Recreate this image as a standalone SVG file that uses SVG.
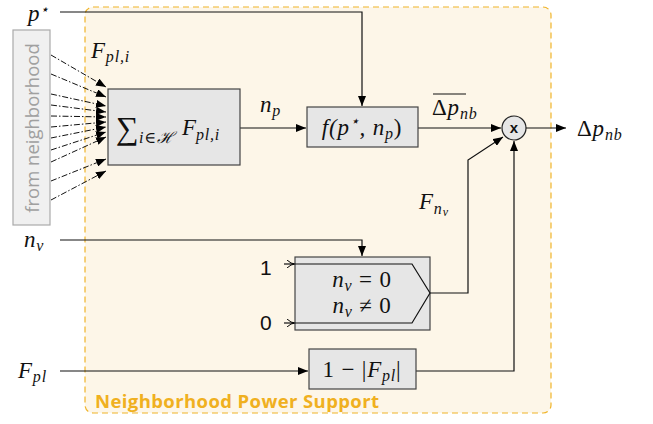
<svg xmlns="http://www.w3.org/2000/svg" width="653" height="424" viewBox="0 0 653 424">
<defs>
<marker id="ah" viewBox="0 0 10 8" refX="10" refY="4" markerWidth="10" markerHeight="8" markerUnits="userSpaceOnUse" orient="auto"><path d="M0,0 L10,4 L0,8 z" fill="#000"/></marker>
<marker id="oa" viewBox="0 0 8 8" refX="8" refY="4" markerWidth="8" markerHeight="8" markerUnits="userSpaceOnUse" orient="auto"><path d="M0,0 Q4,4 8,4 Q4,4 0,8" fill="none" stroke="#000" stroke-width="1"/></marker>
<style>
text{font-family:"Liberation Serif","DejaVu Serif",serif}
.m{font-style:italic;font-size:23px;fill:#111;letter-spacing:0.8px}
.r{font-size:23px;fill:#111;letter-spacing:0.8px}
.s{font-family:"Liberation Sans","DejaVu Sans",sans-serif;font-size:21px;fill:#111}
.box{fill:#e6e6e6;stroke:#444;stroke-width:1.2}
.w{fill:none;stroke:#111;stroke-width:1.2}
.dd{fill:none;stroke:#111;stroke-width:1;stroke-dasharray:6 2 1.5 2}
</style>
</defs>
<rect id="region" x="85" y="7" width="466" height="406" rx="8" fill="#fdf6e8" stroke="#f0b429" stroke-width="1.2" stroke-dasharray="6 4"/>
<text x="95" y="408" style="font-family:'Open Sans','DejaVu Sans',sans-serif;font-weight:bold;font-size:18.5px;letter-spacing:0.4px" fill="#f0b020">Neighborhood Power Support</text>
<g id="neigh"><rect x="13" y="30" width="37" height="195" fill="#f0f0f0" stroke="#aaa" stroke-width="1.2"/><text transform="translate(39,128) rotate(-90)" text-anchor="middle" style="font-family:'Open Sans','DejaVu Sans',sans-serif;font-size:18.5px" fill="#a0a0a0">from neighborhood</text></g>
<g id="connectors">
<path class="dd" d="M51,55 L106,87" marker-end="url(#ah)"/>
<path class="dd" d="M51,74 L106,97" marker-end="url(#ah)"/>
<path class="dd" d="M51,94 L106,106" marker-end="url(#ah)"/>
<path class="dd" d="M51,105 L106,112" marker-end="url(#ah)"/>
<path class="dd" d="M51,116 L106,117" marker-end="url(#ah)"/>
<path class="dd" d="M51,127 L106,122" marker-end="url(#ah)"/>
<path class="dd" d="M51,138 L106,127" marker-end="url(#ah)"/>
<path class="dd" d="M51,150 L106,132" marker-end="url(#ah)"/>
<path class="dd" d="M51,162 L106,137" marker-end="url(#ah)"/>
<path class="dd" d="M51,181 L106,159" marker-end="url(#ah)"/>
<path class="dd" d="M51,200 L106,171" marker-end="url(#ah)"/>
<path class="w" d="M60,12 H362 V106" marker-end="url(#ah)"/>
<path class="w" d="M240,128 H306" marker-end="url(#ah)"/>
<path class="w" d="M418,128 H501" marker-end="url(#ah)"/>
<path class="w" d="M526,128 H566" marker-end="url(#ah)"/>
<path class="w" d="M430,293 H468 V160 L503,137" marker-end="url(#ah)"/>
<path class="w" d="M416,371 H514 V141" marker-end="url(#ah)"/>
<path class="w" d="M60,240 H362 V256" marker-end="url(#ah)"/>
<path class="w" d="M284,264 H295" marker-end="url(#oa)"/>
<path class="w" d="M284,323 H295" marker-end="url(#oa)"/>
<path class="w" d="M60,371 H308" marker-end="url(#ah)"/>
</g>
<g id="sum"><rect class="box" x="108" y="89" width="132" height="76"/><text x="116" y="139" class="r" style="font-size:32px">∑</text><text x="139" y="143" class="m" style="font-size:16px">i∈ℋ</text><text x="182" y="135" class="m">F</text><text x="196" y="140" class="m" style="font-size:16px">pl,i</text></g>
<g id="f"><rect class="box" x="307" y="107" width="111" height="40"/><text x="362" y="135" class="m" text-anchor="middle">f(p<tspan font-size="15" dy="-9">⋆</tspan><tspan dy="9">, n</tspan><tspan font-size="16" dy="4">p</tspan><tspan dy="-4" font-style="normal">)</tspan></text></g>
<g id="mult"><circle cx="514" cy="128" r="12" fill="#e6e6e6" stroke="#222" stroke-width="1.2"/><text x="514" y="133" text-anchor="middle" style="font-family:'Liberation Sans',sans-serif;font-weight:bold;font-size:15px" fill="#111">x</text></g>
<g id="switch"><rect class="box" x="295" y="257" width="135" height="73"/><path class="w" d="M295,264 H412 L430,293 L412,323 H295"/><text x="362" y="287" class="m" text-anchor="middle">n<tspan font-size="16" dy="4">v</tspan><tspan dy="-4" font-style="normal"> = 0</tspan></text><text x="362" y="313" class="m" text-anchor="middle">n<tspan font-size="16" dy="4">v</tspan><tspan dy="-4" font-style="normal"> ≠ 0</tspan></text></g>
<g id="abs"><rect class="box" x="309" y="349" width="107" height="40"/><text x="362" y="377" class="r" text-anchor="middle">1 − |<tspan font-style="italic">F</tspan><tspan font-style="italic" font-size="16" dy="4">pl</tspan><tspan dy="-4">|</tspan></text></g>
<g id="labels">
<text x="28" y="21" class="m">p<tspan font-size="14" dy="-7">⋆</tspan></text>
<text x="91" y="58" class="m">F<tspan font-size="16" dy="4">pl,i</tspan></text>
<text x="260" y="112" class="m">n<tspan font-size="16" dy="4">p</tspan></text>
<text x="432" y="115" class="r">Δ<tspan font-style="italic">p</tspan><tspan font-style="italic" font-size="16" dy="4">nb</tspan></text>
<line x1="433" y1="94" x2="466" y2="94" stroke="#111" stroke-width="1"/>
<text x="577" y="136" class="r">Δ<tspan font-style="italic">p</tspan><tspan font-style="italic" font-size="16" dy="4">nb</tspan></text>
<text x="419" y="209" class="m">F<tspan font-size="16" dy="5">n<tspan font-size="12" dy="2">v</tspan></tspan></text>
<text x="24" y="247" class="m">n<tspan font-size="16" dy="4">v</tspan></text>
<text x="260" y="275" class="s">1</text>
<text x="260" y="330" class="s">0</text>
<text x="18" y="378" class="m">F<tspan font-size="16" dy="4">pl</tspan></text>
</g>
</svg>
